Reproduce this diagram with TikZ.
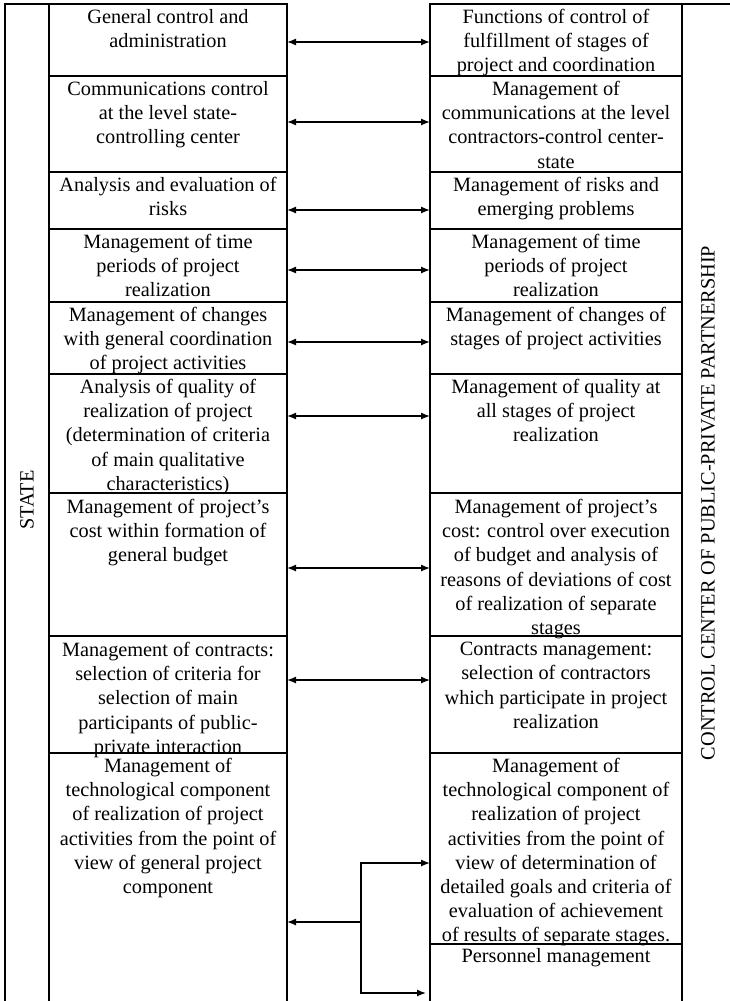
\documentclass[tikz,border=0pt]{standalone}
\usepackage{fontspec}
\setmainfont{Liberation Serif}
\usetikzlibrary{arrows.meta}
\begin{document}
\begin{tikzpicture}[x=1pt,y=-1pt,
  box/.style={draw, line width=1.5pt, inner sep=0pt, outer sep=0pt, anchor=north west},
  lbox/.style={box, minimum width=238pt},
  rbox/.style={box, minimum width=252pt},
  frame/.style={draw, line width=1.5pt, inner sep=0pt, outer sep=0pt, anchor=north west},
  txt/.style={anchor=north, inner sep=0pt, align=center, font=\fontsize{20.3}{24.2}\selectfont},
  side/.style={rotate=90, inner sep=0pt, font=\fontsize{20.3}{24.2}\selectfont},
  dbl/.style={line width=1.3pt, {Latex[length=9pt,width=7pt]}-{Latex[length=9pt,width=7pt]}},
  conn/.style={line width=1.3pt, -{Latex[length=9pt,width=7pt]}}
]
\useasboundingbox (0,0) rectangle (730,1001);

% outer frames (open at the cropped edges)
\node[frame, minimum width=282pt, minimum height=1012pt] (stateframe) at (5,4) {};
\node[frame, minimum width=330pt, minimum height=1012pt] (ccframe) at (430,4) {};

% left column boxes
\node[lbox, minimum height=72pt]  (L1) at (49,4) {};
\node[lbox, minimum height=96pt]  (L2) at (49,76) {};
\node[lbox, minimum height=57pt]  (L3) at (49,172) {};
\node[lbox, minimum height=73pt]  (L4) at (49,229) {};
\node[lbox, minimum height=72pt]  (L5) at (49,302) {};
\node[lbox, minimum height=119pt] (L6) at (49,374) {};
\node[lbox, minimum height=143pt] (L7) at (49,493) {};
\node[lbox, minimum height=117pt] (L8) at (49,636) {};
\node[lbox, minimum height=260pt] (L9) at (49,753) {};

% right column boxes
\node[rbox, minimum height=72pt]  (R1) at (430,4) {};
\node[rbox, minimum height=96pt]  (R2) at (430,76) {};
\node[rbox, minimum height=57pt]  (R3) at (430,172) {};
\node[rbox, minimum height=73pt]  (R4) at (430,229) {};
\node[rbox, minimum height=72pt]  (R5) at (430,302) {};
\node[rbox, minimum height=119pt] (R6) at (430,374) {};
\node[rbox, minimum height=143pt] (R7) at (430,493) {};
\node[rbox, minimum height=117pt] (R8) at (430,636) {};
\node[rbox, minimum height=191pt] (R9) at (430,753) {};
\node[rbox, minimum height=70pt]  (R10) at (430,944) {};

% texts left
\node[txt] (L1t) at (168,9) {General control and\\administration};
\node[txt] (L2t) at (168,81) {Communications control\\at the level state-\\controlling center};
\node[txt] (L3t) at (168,177) {Analysis and evaluation of\\risks};
\node[txt] (L4t) at (168,234) {Management of time\\periods of project\\realization};
\node[txt] (L5t) at (168,307) {Management of changes\\with general coordination\\of project activities};
\node[txt] (L6t) at (168,379) {Analysis of quality of\\realization of project\\(determination of criteria\\of main qualitative\\characteristics)};
\node[txt] (L7t) at (168,499) {Management of project’s\\cost within formation of\\general budget};
\node[txt] (L8t) at (168,642) {Management of contracts:\\selection of criteria for\\selection of main\\participants of public-\\private interaction};
\node[txt] (L9t) at (168,758) {Management of\\technological component\\of realization of project\\activities from the point of\\view of general project\\component};

% texts right
\node[txt] (R1t) at (556,9) {Functions of control of\\fulfillment of stages of\\project and coordination};
\node[txt] (R2t) at (556,81) {Management of\\communications at the level\\contractors-control center-\\state};
\node[txt] (R3t) at (556,177) {Management of risks and\\emerging problems};
\node[txt] (R4t) at (556,234) {Management of time\\periods of project\\realization};
\node[txt] (R5t) at (556,307) {Management of changes of\\stages of project activities};
\node[txt] (R6t) at (556,379) {Management of quality at\\all stages of project\\realization};
\node[txt] (R7t) at (556,499) {Management of project’s\\cost: control over execution\\of budget and analysis of\\reasons of deviations of cost\\of realization of separate\\stages};
\node[txt] (R8t) at (556,642) {Contracts management:\\selection of contractors\\which participate in project\\realization};
\node[txt] (R9t) at (556,758) {Management of\\technological component of\\realization of project\\activities from the point of\\view of determination of\\detailed goals and criteria of\\evaluation of achievement\\of results of separate stages.};
\node[txt] (R10t) at (556,948) {Personnel management};

% side labels
\node[side] (state) at (27,500) {STATE};
\node[side] (cc) at (708,503) {CONTROL CENTER OF PUBLIC-PRIVATE PARTNERSHIP};

% arrow levels
\coordinate (y1) at (0,42);
\coordinate (y2) at (0,122);
\coordinate (y3) at (0,210);
\coordinate (y4) at (0,270);
\coordinate (y5) at (0,342);
\coordinate (y6) at (0,416);
\coordinate (y7) at (0,568);
\coordinate (y8) at (0,680);
\coordinate (ya) at (0,863);
\coordinate (yb) at (0,993);
\coordinate (J) at (361,922);

\draw[dbl] (L1.east |- y1) -- (R1.west |- y1);
\draw[dbl] (L2.east |- y2) -- (R2.west |- y2);
\draw[dbl] (L3.east |- y3) -- (R3.west |- y3);
\draw[dbl] (L4.east |- y4) -- (R4.west |- y4);
\draw[dbl] (L5.east |- y5) -- (R5.west |- y5);
\draw[dbl] (L6.east |- y6) -- (R6.west |- y6);
\draw[dbl] (L7.east |- y7) -- (R7.west |- y7);
\draw[dbl] (L8.east |- y8) -- (R8.west |- y8);

\draw[conn] (J) -- (L9.east |- J);
\draw[conn] (J) |- (R9.west |- ya);
\draw[conn, shorten >=4pt] (J) |- (R10.west |- yb);
\end{tikzpicture}
\end{document}
